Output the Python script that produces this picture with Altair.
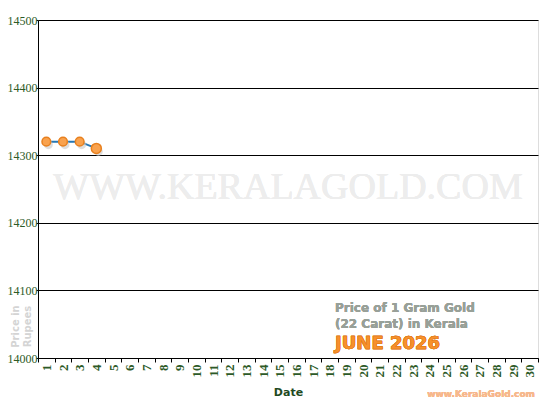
import altair as alt
import pandas as pd

days_all = list(range(1, 31))
days = [1, 2, 3, 4]
prices = [14320, 14320, 14320, 14310]
y_ticks = [14000, 14100, 14200, 14300, 14400, 14500]

df = pd.DataFrame({"day": days, "price": prices})

W, H = 500, 338

x_enc = alt.X("day:O", scale=alt.Scale(domain=days_all, paddingInner=0, paddingOuter=0),
              axis=alt.Axis(title="Date", labelAngle=270, tickBand="extent", tickSize=4,
                            tickColor="black", domainColor="black", labelFont="Liberation Serif",
                            labelFontSize=13, labelFontWeight="bold", labelColor="#2d5a27",
                            labelPadding=2, titleFont="DejaVu Sans", titleFontSize=11,
                            titleFontWeight="bold", titleColor="#1f4a1f", titleY=37,
                            titleBaseline="alphabetic", grid=False))
y_enc = alt.Y("price:Q", scale=alt.Scale(domain=[14000, 14500], nice=False, zero=False),
              axis=alt.Axis(values=y_ticks, format="d", title=["Price in", "Rupees"], grid=True,
                            gridColor="black", gridOpacity=1, gridWidth=1, tickSize=2,
                            tickColor="black", domainColor="black", labelFont="Liberation Serif",
                            labelFontSize=12, labelColor="#2d5a27", labelPadding=-1,
                            titleFont="DejaVu Sans", titleFontSize=10, titleFontWeight="bold",
                            titleColor="#d4d4d4", titleAngle=270, titleX=-23, titleY=306,
                            titleAlign="center", titleBaseline="middle", titleLineHeight=12))

watermark = alt.Chart(df).mark_text(
    text="WWW.KERALAGOLD.COM", font="Liberation Serif", fontSize=38, color="#ededed",
    align="center", baseline="middle"
).encode(x=alt.value(W / 2), y=alt.value(168))

line = alt.Chart(df).mark_line(color="#2577b5", strokeWidth=2).encode(x=x_enc, y=y_enc)

shadow = alt.Chart(df).mark_point(filled=True, color="#c8c8c8", opacity=0.6, size=80,
                                  xOffset=2, yOffset=3).encode(x="day:O", y="price:Q")

points = alt.Chart(df).mark_point(filled=True, fill="#f9a24e", stroke="#e8801e",
                                  strokeWidth=1.5, opacity=1).encode(
    x="day:O", y="price:Q",
    size=alt.condition(alt.datum.day == days[-1], alt.value(100), alt.value(75)))

t1 = alt.Chart(df).mark_text(text="Price of 1 Gram Gold", font="DejaVu Sans", fontSize=12,
                             fontWeight="bold", color="#98a098", align="left",
                             baseline="alphabetic").encode(x=alt.value(297), y=alt.value(292))
t2 = alt.Chart(df).mark_text(text="(22 Carat) in Kerala", font="DejaVu Sans", fontSize=12,
                             fontWeight="bold", color="#98a098", align="left",
                             baseline="alphabetic").encode(x=alt.value(297), y=alt.value(308))
t3 = alt.Chart(df).mark_text(text="JUNE 2026", font="DejaVu Sans", fontSize=18,
                             fontWeight="bold", color="#f7902c", stroke="#e07a18",
                             strokeWidth=0.4, align="left",
                             baseline="alphabetic").encode(x=alt.value(297), y=alt.value(329))
t4 = alt.Chart(df).mark_text(text="www.KeralaGold.com", font="DejaVu Sans", fontSize=9,
                             fontWeight="bold", color="#f7b88c", align="right",
                             baseline="alphabetic").encode(x=alt.value(497), y=alt.value(377))

chart = alt.layer(watermark, line, shadow, points, t1, t2, t3, t4).properties(
    width=W, height=H, autosize=alt.AutoSizeParams(type="none"),
    padding={"left": 30, "top": 12, "right": 4, "bottom": 42}
).configure_view(stroke="#888888", strokeWidth=1).configure(background="white")

chart.save("out.html", embed_options={"renderer": "svg", "actions": False})
